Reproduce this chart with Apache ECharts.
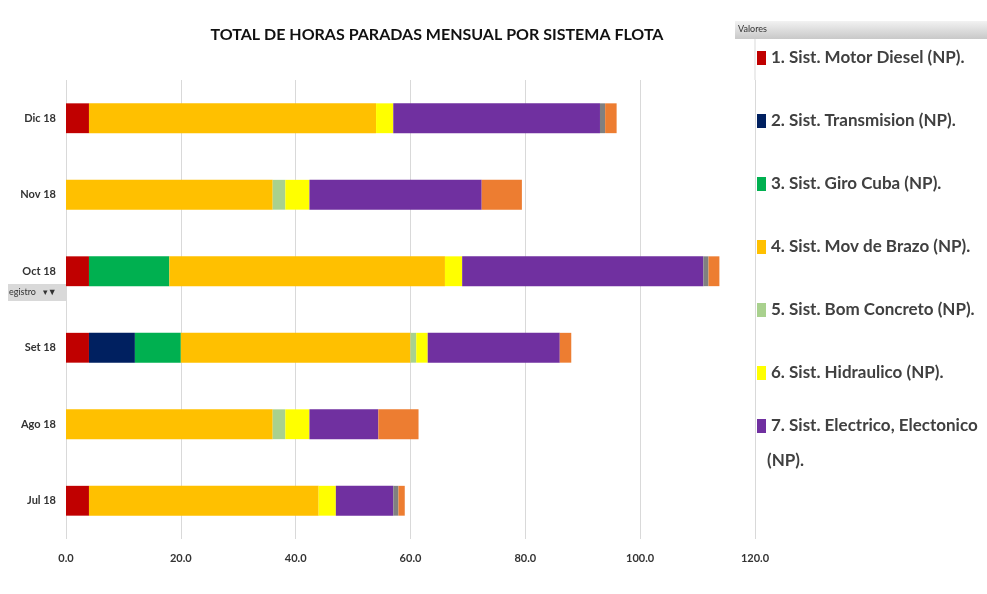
<!DOCTYPE html>
<html>
<head>
<meta charset="utf-8">
<script src="https://cdn.jsdelivr.net/npm/echarts@6/dist/echarts.min.js"></script>
<style>
body { margin: 0; background: #fff; }
#chart { width: 987px; height: 594px; }
</style>
</head>
<body>
<div id="chart"></div>
<script>
// meses, de abajo hacia arriba
const months = ["Jul 18", "Ago 18", "Set 18", "Oct 18", "Nov 18", "Dic 18"];
const xTicks = [0, 20, 40, 60, 80, 100, 120];

const systemNames = [
  "1. Sist. Motor Diesel (NP).",
  "2. Sist. Transmision (NP).",
  "3. Sist. Giro Cuba (NP).",
  "4. Sist. Mov de Brazo (NP).",
  "5. Sist. Bom Concreto (NP).",
  "6. Sist. Hidraulico (NP).",
  "7. Sist. Electrico, Electonico (NP).",
  "8. Otros (NP).",
  "9. Otros (NP)."
];
const systemColors = ["#C00000", "#002060", "#00B050", "#FFC000", "#A9D18E", "#FFFF00", "#7030A0", "#808080", "#ED7D31"];

// horas paradas por sistema (Jul..Dic)
const motorDiesel  = [4, 0, 4, 4, 0, 4];
const transmision  = [0, 0, 8, 0, 0, 0];
const giroCuba     = [0, 0, 8, 14, 0, 0];
const movBrazo     = [40, 36, 40, 48, 36, 50];
const bomConcreto  = [0, 2.2, 1, 0, 2.2, 0];
const hidraulico   = [3, 4.2, 2, 3, 4.2, 3];
const electrico    = [10, 12, 23, 42, 30, 36];
const otrosGris    = [0.9, 0, 0, 0.9, 0, 0.9];
const otrosNaranja = [1.1, 7, 2, 1.9, 7, 2];

const seriesData = [motorDiesel, transmision, giroCuba, movBrazo, bomConcreto, hidraulico, electrico, otrosGris, otrosNaranja];

const chart = echarts.init(document.getElementById("chart"));
const font = "Lato, 'Liberation Sans', sans-serif";
const legendText = { fontFamily: font, fontSize: 17, fontWeight: "bold", color: "#404040", lineHeight: 20 };

chart.setOption({
  animation: false,
  color: systemColors,
  title: {
    text: "TOTAL DE HORAS PARADAS MENSUAL POR SISTEMA FLOTA",
    left: 432,
    textAlign: "center",
    top: 22,
    textStyle: { fontFamily: font, fontSize: 16, fontWeight: "bold", color: "#111" }
  },
  legend: [
    {
      data: systemNames.slice(0, 6),
      orient: "vertical",
      left: 752,
      top: 43,
      itemWidth: 9,
      itemHeight: 14,
      itemGap: 43,
      icon: "rect",
      textStyle: legendText
    },
    {
      data: [systemNames[6]],
      orient: "vertical",
      left: 752,
      top: 411,
      itemWidth: 9,
      itemHeight: 14,
      icon: "rect",
      formatter: () => "7. Sist. Electrico, Electonico",
      textStyle: legendText
    }
  ],
  grid: { left: 66, right: 232, top: 80, bottom: 55 },
  xAxis: {
    type: "value",
    min: xTicks[0],
    max: xTicks[xTicks.length - 1],
    interval: 20,
    axisLine: { show: false },
    axisTick: { show: false },
    splitLine: { lineStyle: { color: "#d9d9d9" } },
    axisLabel: {
      margin: 14,
      formatter: (v) => v.toFixed(1),
      fontFamily: font, fontSize: 11, fontWeight: "bold", color: "#333"
    }
  },
  yAxis: {
    type: "category",
    data: months,
    axisLine: { show: false },
    axisTick: { show: false },
    axisLabel: { margin: 10, fontFamily: font, fontSize: 11, fontWeight: "bold", color: "#333" }
  },
  series: seriesData.map((d, i) => ({
    name: systemNames[i],
    type: "bar",
    stack: "total",
    barWidth: "39%",
    data: d
  })),
  graphic: [
    {
      type: "rect",
      shape: { x: 735, y: 21, width: 252, height: 18 },
      style: {
        fill: new echarts.graphic.LinearGradient(0, 0, 0, 1, [
          { offset: 0, color: "#f2f2f2" }, { offset: 1, color: "#c8c8c8" }
        ])
      }
    },
    { type: "text", x: 738, y: 25, style: { text: "Valores", fontFamily: font, fontSize: 9, fill: "#333" } },
    { type: "line", shape: { x1: 755, y1: 39, x2: 755, y2: 80 }, style: { stroke: "#d9d9d9", lineWidth: 1 } },
    { type: "text", x: 767, y: 452, style: { text: "(NP).", fontFamily: font, fontSize: 17, fontWeight: "bold", fill: "#404040" } },
    {
      type: "rect",
      shape: { x: 8, y: 284, width: 58, height: 17 },
      style: { fill: "#d9d9d9" }
    },
    { type: "text", x: 9, y: 288, style: { text: "egistro   \u25BE\u25BC", fontFamily: font, fontSize: 9, fill: "#333" } }
  ]
});
</script>
</body>
</html>
